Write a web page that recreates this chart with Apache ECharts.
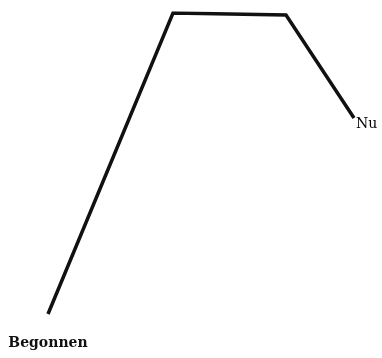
<!DOCTYPE html>
<html>
<head>
<meta charset="utf-8">
<script src="https://cdn.jsdelivr.net/npm/echarts@6/dist/echarts.min.js"></script>
<style>html,body{margin:0;padding:0;background:#fff}#c{width:382px;height:358px}</style>
</head>
<body>
<div id="c"></div>
<script>
// Data (abstract units)
var xValues = [0, 125, 238, 306];
var yValues = [0, 301, 299, 196];
var pointLabels = ['Begonnen', '', '', 'Nu'];

var chart = echarts.init(document.getElementById('c'), null, {renderer: 'canvas'});
var data = xValues.map(function (x, i) {
  var item = {value: [x, yValues[i]]};
  if (i === 0) {
    item.label = {show: true, formatter: pointLabels[i], position: 'bottom', distance: 0, offset: [0, 22],
      fontFamily: 'DejaVu Serif', fontWeight: 'bold', fontSize: 14, color: '#111'};
  } else if (i === xValues.length - 1) {
    item.label = {show: true, formatter: pointLabels[i], position: 'right', distance: 2, offset: [0, 6],
      fontFamily: 'DejaVu Serif', fontWeight: 'normal', fontSize: 14, color: '#000'};
  }
  return item;
});
chart.setOption({
  animation: false,
  backgroundColor: '#fff',
  grid: {left: 48, right: 28, top: 13, bottom: 44},
  xAxis: {type: 'value', min: 0, max: 306, show: false},
  yAxis: {type: 'value', min: 0, max: 301, show: false},
  series: [{
    type: 'line',
    data: data,
    symbol: 'circle',
    symbolSize: 0.1,
    showSymbol: true,
    itemStyle: {color: '#111'},
    lineStyle: {color: '#111', width: 3.5, join: 'miter', cap: 'butt'},
    label: {show: false}
  }]
});
</script>
</body>
</html>
